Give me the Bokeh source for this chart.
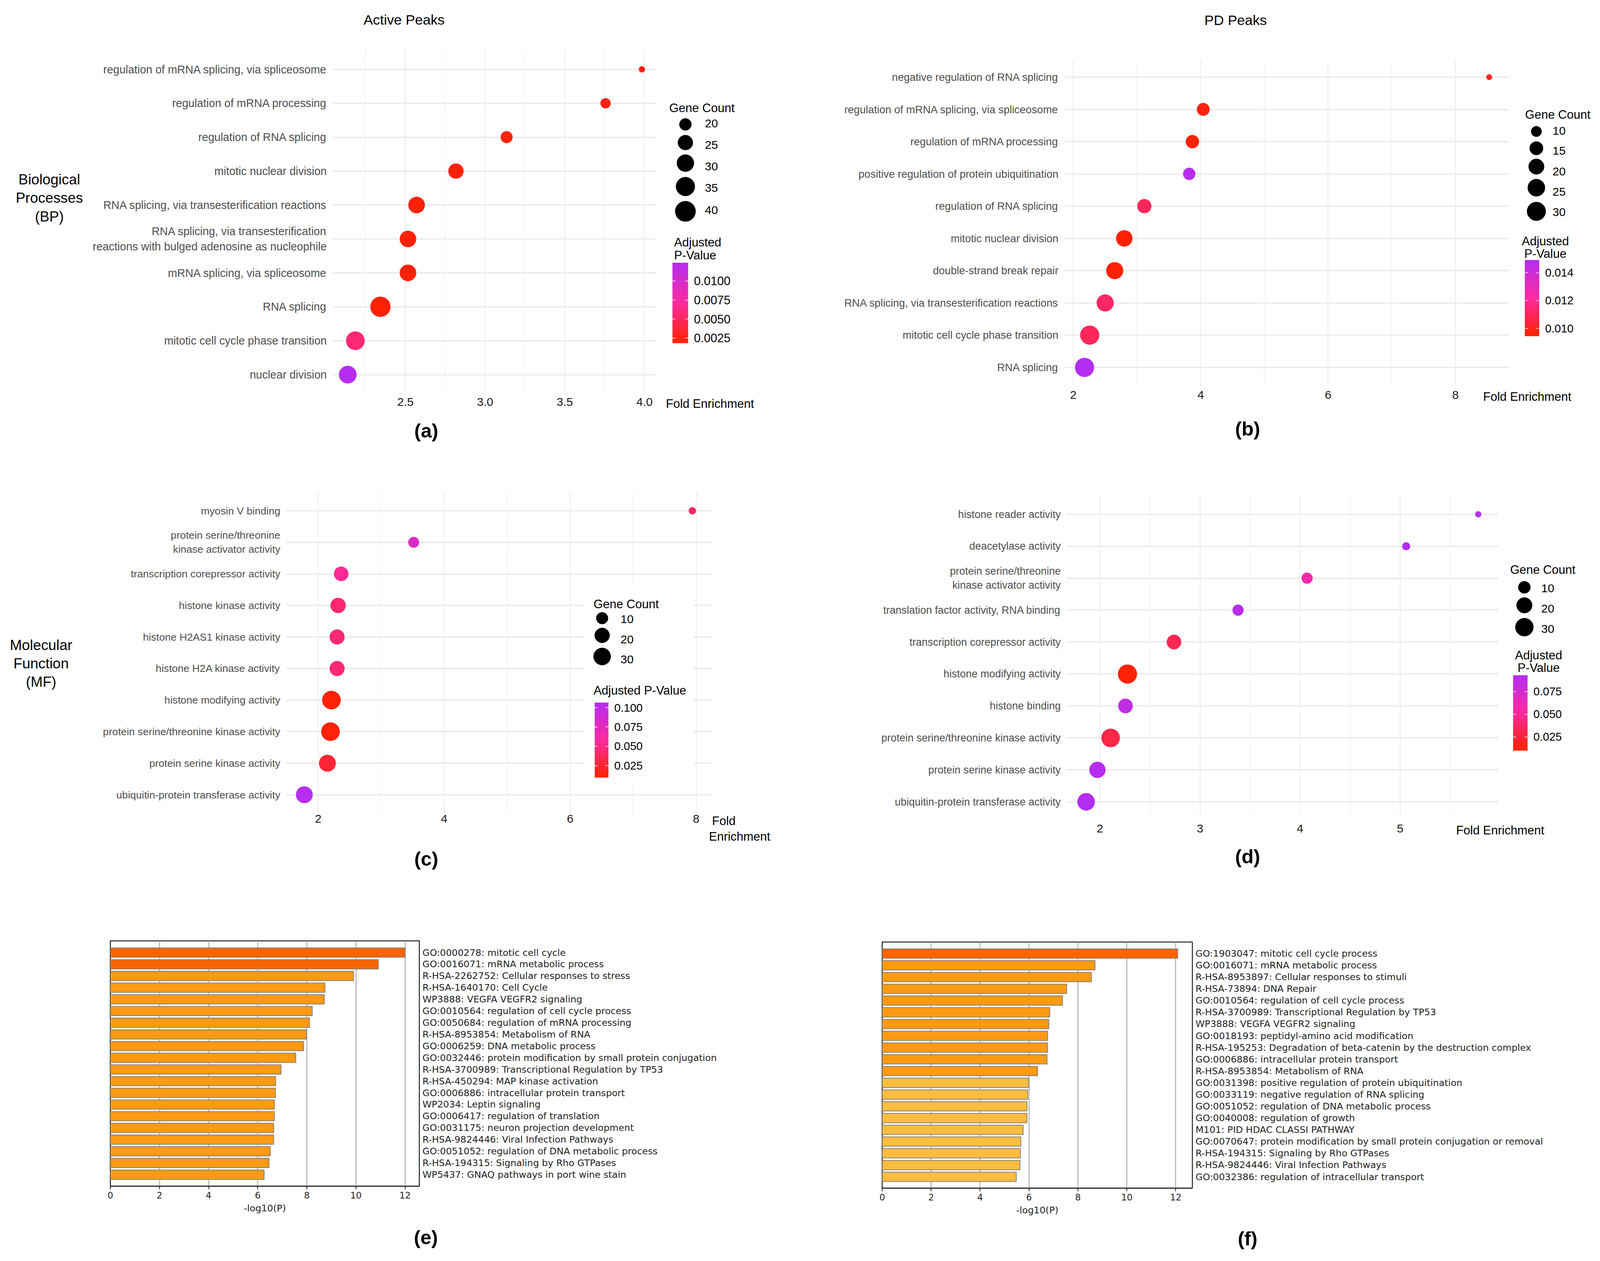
import numpy as np
from bokeh.plotting import figure
from bokeh.embed import file_html
from bokeh.resources import INLINE
from bokeh.models import (Range1d, FixedTicker, Label, ColorBar, LinearColorMapper,
                          PrintfTickFormatter, ColumnDataSource)

# ---------- data ----------
a_terms = ["regulation of mRNA splicing, via spliceosome", "regulation of mRNA processing", "regulation of RNA splicing",
           "mitotic nuclear division", "RNA splicing, via transesterification reactions",
           "RNA splicing, via transesterification\nreactions with bulged adenosine as nucleophile",
           "mRNA splicing, via spliceosome", "RNA splicing", "mitotic cell cycle phase transition", "nuclear division"]
a_fold = [3.984, 3.756, 3.135, 2.817, 2.57, 2.516, 2.516, 2.343, 2.186, 2.138]
a_count = [16, 18, 20, 26, 29, 29, 29, 40, 35, 32]
a_padj = [0.0025, 0.0025, 0.0023, 0.0020, 0.0020, 0.0021, 0.0021, 0.0019, 0.0057, 0.0123]

b_terms = ["negative regulation of RNA splicing", "regulation of mRNA splicing, via spliceosome", "regulation of mRNA processing",
           "positive regulation of protein ubiquitination", "regulation of RNA splicing", "mitotic nuclear division",
           "double-strand break repair", "RNA splicing, via transesterification reactions",
           "mitotic cell cycle phase transition", "RNA splicing"]
b_fold = [8.53, 4.04, 3.87, 3.82, 3.115, 2.80, 2.65, 2.50, 2.257, 2.176]
b_count = [7, 14, 15, 13, 17, 23, 25, 25, 32, 32]
b_padj = [0.0100, 0.0097, 0.0096, 0.0148, 0.0110, 0.0095, 0.0095, 0.0112, 0.0110, 0.0149]

c_terms = ["myosin V binding", "protein serine/threonine\nkinase activator activity", "transcription corepressor activity",
           "histone kinase activity", "histone H2AS1 kinase activity", "histone H2A kinase activity",
           "histone modifying activity", "protein serine/threonine kinase activity", "protein serine kinase activity",
           "ubiquitin-protein transferase activity"]
c_fold = [7.94, 3.516, 2.365, 2.316, 2.30, 2.30, 2.21, 2.195, 2.146, 1.78]
c_count = [3, 8, 19, 22, 21, 21, 38, 38, 29, 29]
c_padj = [0.040, 0.082, 0.055, 0.043, 0.045, 0.045, 0.011, 0.012, 0.025, 0.106]

d_terms = ["histone reader activity", "deacetylase activity", "protein serine/threonine\nkinase activator activity",
           "translation factor activity, RNA binding", "transcription corepressor activity", "histone modifying activity",
           "histone binding", "protein serine/threonine kinase activity", "protein serine kinase activity",
           "ubiquitin-protein transferase activity"]
d_fold = [5.78, 5.06, 4.07, 3.38, 2.74, 2.275, 2.255, 2.107, 1.975, 1.862]
d_count = [3, 4, 8, 8, 17, 36, 17, 33, 23, 28]
d_padj = [0.092, 0.092, 0.058, 0.092, 0.032, 0.011, 0.086, 0.029, 0.092, 0.093]

e_terms = ["GO:0000278: mitotic cell cycle", "GO:0016071: mRNA metabolic process", "R-HSA-2262752: Cellular responses to stress",
           "R-HSA-1640170: Cell Cycle", "WP3888: VEGFA VEGFR2 signaling", "GO:0010564: regulation of cell cycle process",
           "GO:0050684: regulation of mRNA processing", "R-HSA-8953854: Metabolism of RNA", "GO:0006259: DNA metabolic process",
           "GO:0032446: protein modification by small protein conjugation", "R-HSA-3700989: Transcriptional Regulation by TP53",
           "R-HSA-450294: MAP kinase activation", "GO:0006886: intracellular protein transport", "WP2034: Leptin signaling",
           "GO:0006417: regulation of translation", "GO:0031175: neuron projection development", "R-HSA-9824446: Viral Infection Pathways",
           "GO:0051052: regulation of DNA metabolic process", "R-HSA-194315: Signaling by Rho GTPases", "WP5437: GNAQ pathways in port wine stain"]
e_logp = [12.0, 10.91, 9.90, 8.74, 8.71, 8.22, 8.11, 7.98, 7.87, 7.55, 6.95, 6.73, 6.72, 6.68, 6.68, 6.65, 6.65, 6.51, 6.46, 6.26]
e_tier = [0, 0] + [1] * 18

f_terms = ["GO:1903047: mitotic cell cycle process", "GO:0016071: mRNA metabolic process", "R-HSA-8953897: Cellular responses to stimuli",
           "R-HSA-73894: DNA Repair", "GO:0010564: regulation of cell cycle process", "R-HSA-3700989: Transcriptional Regulation by TP53",
           "WP3888: VEGFA VEGFR2 signaling", "GO:0018193: peptidyl-amino acid modification",
           "R-HSA-195253: Degradation of beta-catenin by the destruction complex", "GO:0006886: intracellular protein transport",
           "R-HSA-8953854: Metabolism of RNA", "GO:0031398: positive regulation of protein ubiquitination",
           "GO:0033119: negative regulation of RNA splicing", "GO:0051052: regulation of DNA metabolic process", "GO:0040008: regulation of growth",
           "M101: PID HDAC CLASSI PATHWAY", "GO:0070647: protein modification by small protein conjugation or removal",
           "R-HSA-194315: Signaling by Rho GTPases", "R-HSA-9824446: Viral Infection Pathways", "GO:0032386: regulation of intracellular transport"]
f_logp = [12.08, 8.70, 8.55, 7.54, 7.37, 6.85, 6.81, 6.76, 6.76, 6.74, 6.35, 5.99, 5.95, 5.92, 5.92, 5.76, 5.67, 5.65, 5.63, 5.48]
f_tier = [0] + [1] * 10 + [2] * 9

# ---------- styles ----------
SANS = "Liberation Sans"
DEJA = "DejaVu Sans"
TIER_COLORS = ["#fb6500", "#ff9a12", "#ffbd40"]
STOPS = np.array([[255, 34, 0], [255, 42, 159], [180, 45, 242]], float)
t = np.linspace(0, 1, 256)
PALETTE = ["#%02x%02x%02x" % tuple(int(round(np.interp(v, [0, 0.5, 1], STOPS[:, k]))) for k in range(3)) for v in t]

# The browser shows only about 4094 px of width, so the page layout is narrowed to fit.
K = 0.96
FS = 0.97
COLS = [8, 2135, 4262]
ROWS = [8, 1150, 2240, 3220]


def X(v):
    return int(round(v * K))


def F(v):
    return f"{v * FS:.1f}px"


def abs_style(x, y):
    return {"position": "absolute", "left": f"{x}px", "top": f"{y}px"}


# transparent full-page sheet for everything that lies outside a panel's plotting frame
ov = figure(width=X(4262) - 8, height=3212, output_backend="svg", toolbar_location=None, tools="",
            x_range=Range1d(8 / K, 4262), y_range=Range1d(3220, 8), x_axis_type=None, y_axis_type=None,
            min_border=0, min_border_left=0, min_border_right=0, min_border_top=0, min_border_bottom=0,
            styles=abs_style(8, 8))
ov.outline_line_color = None
ov.background_fill_alpha = 0
ov.border_fill_alpha = 0
ov.grid.visible = False


def make_fig(cell_c, cell_r, frame, x_rng, terms, rows_px, axis_side="left"):
    L, R, T, B = frame
    cx0, cx1 = X(COLS[cell_c]) if cell_c else 8, X(COLS[cell_c + 1])
    cy0, cy1 = ROWS[cell_r], ROWS[cell_r + 1]
    n = len(terms)
    step = (rows_px[1] - rows_px[0]) / (n - 1)
    p = figure(width=cx1 - cx0, height=cy1 - cy0, output_backend="svg", toolbar_location=None, tools="",
               x_range=Range1d(*x_rng),
               y_range=Range1d(n - 1 + (B - rows_px[1]) / step, -(rows_px[0] - T) / step),
               y_axis_location=axis_side,
               min_border_left=X(L) - cx0, min_border_right=cx1 - X(R), min_border_top=T - cy0, min_border_bottom=cy1 - B,
               styles=abs_style(cx0, cy0))
    p.outline_line_color = None
    p.background_fill_color = "white"
    p.border_fill_alpha = 0
    p.extra_x_ranges = {"px": Range1d(0, X(R) - X(L))}
    p.extra_y_ranges = {"px": Range1d(0, B - T)}
    ax = p.yaxis[0]
    ax.ticker = FixedTicker(ticks=list(range(n)))
    ax.major_label_overrides = {i: s for i, s in enumerate(terms)}
    ax.minor_tick_line_color = None
    return p


def txt(x, y, s, size, align="left", font=SANS, style="normal", color="black"):
    ov.add_layout(Label(x=x, y=y, text=s, text_font=font, text_font_size=F(size), text_font_style=style,
                        text_color=color, text_align=align, text_baseline="middle"))


def dot_panel(cell, frame, x_rng, rows_px, majors, minors, tick_fmt, terms, fold, count, padj, term_px, standoff, label_standoff,
              size_par, legend_counts, key_x, key_ys, lab_x, lab_ys, title_gc, bar, bar_low, bar_high, bar_ticks, bar_fmt,
              bar_font, bar_title, fold_labels, tag, extra=()):
    L, R, T, B = frame
    p = make_fig(cell[0], cell[1], frame, x_rng, terms, rows_px)
    lo, hi, cmin, cmax = size_par

    def diam(c):
        return lo + (hi - lo) * np.sqrt(np.clip((np.asarray(c, float) - cmin) / (cmax - cmin), 0, 1))

    # grid
    p.xgrid.ticker = FixedTicker(ticks=majors, minor_ticks=minors)
    p.xgrid.grid_line_color = "#ebebeb"
    p.xgrid.grid_line_width = 2
    p.xgrid.minor_grid_line_color = "#efefef"
    p.xgrid.minor_grid_line_width = 1.5
    p.ygrid.ticker = FixedTicker(ticks=list(range(len(terms))))
    p.ygrid.grid_line_color = "#ebebeb"
    p.ygrid.grid_line_width = 3.5

    # axes
    p.xaxis.ticker = FixedTicker(ticks=majors)
    p.xaxis.formatter = PrintfTickFormatter(format=tick_fmt)
    p.xaxis.axis_line_color = None
    p.xaxis.major_tick_line_color = None
    p.xaxis.minor_tick_line_color = None
    p.xaxis.major_tick_out = 0
    p.xaxis.major_label_standoff = standoff
    p.xaxis.major_label_text_font = SANS
    p.xaxis.major_label_text_font_size = F(31)
    p.xaxis.major_label_text_color = "#1a1a1a"
    p.yaxis.axis_line_color = None
    p.yaxis.major_tick_line_color = None
    p.yaxis.major_tick_out = 0
    p.yaxis.major_label_standoff = label_standoff
    p.yaxis.major_label_text_font = SANS
    p.yaxis.major_label_text_font_size = F(term_px)
    p.yaxis.major_label_text_color = "#4d4d4d"

    for (qx0, qx1, qy0, qy1) in extra:
        p.quad(left=[X(qx0) - X(L)], right=[X(qx1) - X(L)], top=[B - qy0], bottom=[B - qy1], fill_color="white",
               line_color=None, x_range_name="px", y_range_name="px")

    mapper = LinearColorMapper(palette=PALETTE, low=bar_low, high=bar_high)
    src = ColumnDataSource(dict(x=fold, y=list(range(len(terms))), s=diam(count), v=padj))
    p.scatter(x="x", y="y", size="s", source=src, line_color=None, fill_color={"field": "v", "transform": mapper})

    # gene count legend
    txt(title_gc[0], title_gc[1], "Gene Count", 32)
    ov.scatter(x=[key_x] * len(legend_counts), y=key_ys, size=diam(legend_counts), color="black")
    for c, yy in zip(legend_counts, lab_ys):
        txt(lab_x, yy, str(c), 31)

    # colour bar
    bx0, bx1, by0, by1 = bar
    cb = ColorBar(color_mapper=mapper, location=(X(bx0) - X(L), B - by1), width=X(bx1) - X(bx0), height=by1 - by0, padding=0,
                  ticker=FixedTicker(ticks=bar_ticks), formatter=PrintfTickFormatter(format=bar_fmt),
                  major_label_text_font=SANS, major_label_text_font_size=F(bar_font), major_label_text_color="black",
                  major_tick_line_color="white", major_tick_line_width=1.5, major_tick_in=8, major_tick_out=0,
                  minor_tick_line_color=None, bar_line_color=None, label_standoff=15,
                  background_fill_alpha=0, border_line_color=None)
    p.add_layout(cb)
    sy = [by1 - (v - bar_low) / (bar_high - bar_low) * (by1 - by0) for v in bar_ticks]
    ov.segment(x0=[bx0] * len(sy), x1=[bx0 + 8] * len(sy), y0=sy, y1=sy, line_color="white", line_width=1.5)
    for (tx, ty, s, al) in bar_title:
        txt(tx, ty, s, 32, align=al)

    for (tx, ty, s) in fold_labels:
        txt(tx, ty, s, 32)
    txt(tag[0], tag[1], tag[2], 52, align="center", style="bold")
    return p


pa_frame = (888, 1751, 125, 1011)
pa = dot_panel((0, 0), pa_frame, (2.0456, 4.0776), (177, 958.5), [2.5, 3, 3.5, 4], [2.25, 2.75, 3.25, 3.75], "%.1f",
               a_terms, a_fold, a_count, a_padj, 29.5, 7, 16, (16, 52, 16, 40), [20, 25, 30, 35, 40], 1827,
               [318, 364.5, 417, 477, 540.5], 1879, [315, 370, 425, 480, 537], (1784, 276), (1793, 1834, 672, 878),
               0.00183, 0.01241, [0.0025, 0.005, 0.0075, 0.01], "%.4f", 31.5,
               [(1797, 620, "Adjusted", "left"), (1797, 653, "P-Value", "left")], [(1775, 1033, "Fold Enrichment")],
               (1136, 1102, "(a)"))
txt(1077, 50, "Active Peaks", 37, align="center")
for yy, s in zip([459, 506, 554], ["Biological", "Processes", "(BP)"]):
    txt(131, yy, s, 38, align="center")

pb_frame = (2840, 4025, 155, 986)
pb = dot_panel((1, 0), pb_frame, (1.87, 8.85), (197, 940), [2, 4, 6, 8], [3, 5, 7], "%d",
               b_terms, b_fold, b_count, b_padj, 28.2, 14, 17, (15, 49, 7, 32), [10, 15, 20, 25, 30], 4096,
               [336, 379, 426, 480, 540.5], 4139, [334, 385, 438, 490, 542], (4066, 293), (4066, 4104, 665, 860),
               0.00945, 0.01491, [0.010, 0.012, 0.014], "%.3f", 30,
               [(4120, 617, "Adjusted", "center"), (4120, 649, "P-Value", "center")], [(3954, 1015, "Fold Enrichment")],
               (3326, 1097, "(b)"))
txt(3294, 51, "PD Peaks", 37, align="center")

pc_frame = (762, 1897, 1259, 2082)
pc = dot_panel((0, 1), pc_frame, (1.491, 8.244), (1307, 2034), [2, 4, 6, 8], [3, 5, 7], "%d",
               c_terms, c_fold, c_count, c_padj, 27.5, 3, 15, (15, 47.7, 2.5, 38), [10, 20, 30], 1605,
               [1582, 1626, 1680], 1654, [1584, 1636, 1687.5], (1582, 1545.5), (1585, 1622, 1798, 1990),
               0.0095, 0.1066, [0.025, 0.05, 0.075, 0.1], "%.3f", 30,
               [(1582, 1766.5, "Adjusted P-Value", "left")], [(1898, 2100.6, "Fold"), (1890, 2141, "Enrichment")],
               (1136, 2198, "(c)"), extra=[(1559, 1849, 1498, 2007)])
for yy, s in zip([1651, 1698, 1745], ["Molecular", "Function", "(MF)"]):
    txt(109, yy, s, 38, align="center")

pd_frame = (2843, 3995, 1267, 2085)
pd = dot_panel((1, 1), pd_frame, (1.663, 5.98), (1316, 2052), [2, 3, 4, 5], [2.5, 3.5, 4.5, 5.5], "%d",
               d_terms, d_fold, d_count, d_padj, 27.8, 25, 14, (16, 49, 3.3, 35.6), [10, 20, 30], 4064,
               [1503, 1549, 1605], 4109, [1505, 1557.5, 1609], (4026, 1458), (4034, 4073, 1728, 1921),
               0.0099, 0.0931, [0.025, 0.05, 0.075], "%.3f", 30,
               [(4102, 1677, "Adjusted", "center"), (4102, 1709, "P-Value", "center")], [(3882, 2125, "Fold Enrichment")],
               (3326, 2192, "(d)"))


def bar_panel(cell, frame, x_rng, rows_px, terms, vals, tier, tag):
    p = make_fig(cell[0], cell[1], frame, x_rng, terms, rows_px, axis_side="right")
    src = ColumnDataSource(dict(y=list(range(len(terms))), v=vals, c=[TIER_COLORS[i] for i in tier]))
    p.hbar(y="y", left=0, right="v", height=0.8, source=src, fill_color="c", line_color="#808080", line_width=2)
    p.outline_line_color = "#222222"
    p.outline_line_width = 2.5
    ticks = [0, 2, 4, 6, 8, 10, 12]
    p.ygrid.grid_line_color = None
    p.xgrid.ticker = FixedTicker(ticks=ticks)
    p.xgrid.grid_line_color = "#b0b0b0"
    p.xgrid.grid_line_width = 2.5
    p.xaxis.ticker = FixedTicker(ticks=ticks)
    p.xaxis.axis_line_color = "#222222"
    p.xaxis.axis_line_width = 2.5
    p.xaxis.major_tick_line_color = "#222222"
    p.xaxis.major_tick_line_width = 2
    p.xaxis.major_tick_in = 0
    p.xaxis.major_tick_out = 8
    p.xaxis.minor_tick_line_color = None
    p.xaxis.major_label_standoff = 6
    p.xaxis.major_label_text_font = DEJA
    p.xaxis.major_label_text_font_size = F(23.5)
    p.xaxis.major_label_text_color = "#222222"
    p.xaxis.axis_label = "-log10(P)"
    p.xaxis.axis_label_text_font = DEJA
    p.xaxis.axis_label_text_font_style = "normal"
    p.xaxis.axis_label_text_font_size = F(24.5)
    p.xaxis.axis_label_text_color = "#222222"
    p.xaxis.axis_label_standoff = 8
    p.yaxis.axis_line_color = None
    p.yaxis.major_tick_line_color = None
    p.yaxis.major_tick_out = 0
    p.yaxis.major_label_standoff = 8
    p.yaxis.major_label_text_font = DEJA
    p.yaxis.major_label_text_font_size = F(24.5)
    p.yaxis.major_label_text_color = "#222222"
    txt(tag[0], tag[1], tag[2], 52, align="center", style="bold")
    return p


pe = bar_panel((0, 2), (294, 1118, 2408, 3036), (0, 12.58), (2438, 3006.5), e_terms, e_logp, e_tier, (1135, 3167, "(e)"))
pf = bar_panel((1, 2), (2352, 3179, 2411, 3041), (0, 12.68), (2440.5, 3012), f_terms, f_logp, f_tier, (3326, 3170, "(f)"))

open("out.html", "w").write(file_html([pa, pb, pc, pd, pe, pf, ov], INLINE))
